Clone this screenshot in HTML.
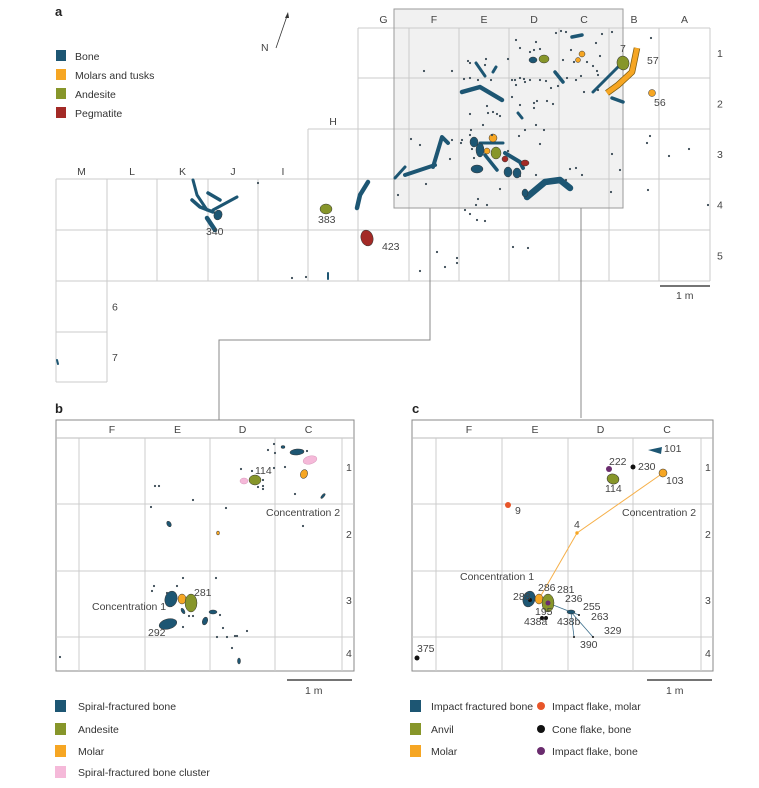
<!DOCTYPE html>
<html><head><meta charset="utf-8">
<style>
html,body{margin:0;padding:0;background:#fff;}
svg{display:block;font-family:"Liberation Sans",Arial,sans-serif;}
.lbl{font-size:10.5px;fill:#444;}
.leg{font-size:10.5px;fill:#333;}
.pl{font-size:13px;font-weight:bold;fill:#222;}
</style></head>
<body>
<svg id="fig" width="759" height="788" viewBox="0 0 759 788" xmlns="http://www.w3.org/2000/svg">
<rect x="394" y="9" width="229" height="199" fill="#f1f1f1" stroke="#9a9a9a" stroke-width="1"/>
<g id="gridA" stroke="#cbcbcb" stroke-width="1" fill="none"></g>
<rect x="394" y="9" width="229" height="199" fill="none" stroke="#9a9a9a" stroke-width="1"/>
<g stroke="#888" stroke-width="1" fill="none">
<polyline points="430,208 430,340 219,340 219,420"/>
<line x1="581" y1="208" x2="581" y2="418"/>
</g>
<g id="marksA"></g>
<g id="gridB"></g>
<g id="marksB"></g>
<g id="gridC"></g>
<g id="marksC"></g>

<text class="pl" x="55" y="16">a</text>
<text class="pl" x="55" y="413">b</text>
<text class="pl" x="412" y="413">c</text>

<g>
<line x1="276" y1="48" x2="287" y2="16" stroke="#333" stroke-width="0.8"/>
<polygon points="288,12 285,18 289,18" fill="#333"/>
<text class="lbl" x="261" y="51">N</text>
</g>

<g>
<rect x="56" y="50" width="10" height="11" fill="#1d5673"/><text class="leg" x="75" y="60">Bone</text>
<rect x="56" y="69" width="10" height="11" fill="#f6a623"/><text class="leg" x="75" y="79">Molars and tusks</text>
<rect x="56" y="88" width="10" height="11" fill="#87962a"/><text class="leg" x="75" y="98">Andesite</text>
<rect x="56" y="107" width="10" height="11" fill="#a32a26"/><text class="leg" x="75" y="117">Pegmatite</text>
</g>

<g>
<line x1="660" y1="286" x2="710" y2="286" stroke="#222" stroke-width="1.3"/>
<text class="lbl" x="676" y="299">1 m</text>
</g>
<g>
<line x1="287" y1="680" x2="352" y2="680" stroke="#222" stroke-width="1.3"/>
<text class="lbl" x="305" y="694">1 m</text>
</g>
<g>
<line x1="647" y1="680" x2="712" y2="680" stroke="#222" stroke-width="1.3"/>
<text class="lbl" x="666" y="694">1 m</text>
</g>

<g>
<rect x="55" y="700" width="11" height="12" fill="#1d5673"/><text class="leg" x="78" y="710">Spiral-fractured bone</text>
<rect x="55" y="723" width="11" height="12" fill="#87962a"/><text class="leg" x="78" y="733">Andesite</text>
<rect x="55" y="745" width="11" height="12" fill="#f6a623"/><text class="leg" x="78" y="755">Molar</text>
<rect x="55" y="766" width="11" height="12" fill="#f5b9d9"/><text class="leg" x="78" y="776">Spiral-fractured bone cluster</text>
</g>
<g>
<rect x="410" y="700" width="11" height="12" fill="#1d5673"/><text class="leg" x="431" y="710">Impact fractured bone</text>
<rect x="410" y="723" width="11" height="12" fill="#87962a"/><text class="leg" x="431" y="733">Anvil</text>
<rect x="410" y="745" width="11" height="12" fill="#f6a623"/><text class="leg" x="431" y="755">Molar</text>
<circle cx="541" cy="706" r="4" fill="#e8562a"/><text class="leg" x="552" y="710">Impact flake, molar</text>
<circle cx="541" cy="729" r="4" fill="#111"/><text class="leg" x="552" y="733">Cone flake, bone</text>
<circle cx="541" cy="751" r="4" fill="#6a2c6e"/><text class="leg" x="552" y="755">Impact flake, bone</text>
</g>
</svg>
<script>
// ---------- data (map units, relative to each panel's grid origin) ----------
const COL = {bone:'#1d5673', molar:'#f6a623', andesite:'#87962a', peg:'#a32a26', pink:'#f5b9d9', black:'#111', purple:'#6a2c6e', flake:'#e8562a'};

// Panel a
const aColLabels = ['M','L','K','J','I','H','G','F','E','D','C','B','A'];
const aRowLabels = ['1','2','3','4','5','6','7'];
const aEllipses = [
 [440,125,5,6,0,'andesite'],[488,31,5,4,0,'andesite'],[567,35,6,7,-10,'andesite'],[270,181,6,5,0,'andesite'],
 [526,26,3,3,0,'molar'],[522,32,2.5,2.5,0,'molar'],[437,110,4,4,0,'molar'],[431,123,3,3,0,'molar'],[596,65,3.5,3.5,0,'molar'],
 [449,131,3,3,0,'peg'],[469,135,4,3,0,'peg'],[311,210,6,8,-15,'peg'],
 [418,114,4,5,0,'bone'],[424,122,4,7,0,'bone'],[421,141,6,4,0,'bone'],[452,144,4,5,0,'bone'],[461,145,4,5,0,'bone'],[469,165,3,4,0,'bone'],[477,32,4,3,0,'bone'],[162,187,4,5,20,'bone']
];
const aBones = [
 [[[406,64],[424,59],[446,72]],4.5],[[[420,35],[429,48]],3],[[[437,44],[440,39]],3],[[[499,44],[507,54]],3.5],
 [[[516,9],[526,7]],3.5],[[[537,64],[562,39]],3],[[[556,70],[567,74]],3.5],[[[462,85],[466,90]],3],
 [[[471,169],[489,154],[504,152],[514,160]],6.5],[[[339,150],[349,139]],3],[[[349,147],[379,137]],4],
 [[[377,139],[386,109],[392,115]],4],[[[449,125],[464,134],[467,140]],4],[[[424,115],[447,115]],3],[[[429,127],[441,142]],3.5],
 [[[137,152],[141,167],[151,182]],3],[[[136,172],[144,179],[157,184]],3.5],[[[157,182],[181,169]],3],[[[151,190],[159,202]],4.5],
 [[[152,165],[164,172]],3.5],[[[312,154],[304,167],[301,180]],4.5],[[[272,245],[272,251]],2],[[[1,332],[2,336]],2]
];
const aTusk = [[581,20],[576,44],[562,57],[551,65]];
const aDots = [[396,43],[412,33],[414,35],[430,31],[429,37],[452,31],[408,51],[414,50],[422,52],[435,52],[459,52],[464,50],[468,51],[474,52],[484,52],[490,53],[495,60],[502,58],[520,52],[525,48],[528,64],[537,38],[541,43],[474,24],[480,14],[478,22],[484,21],[500,5],[505,3],[510,4],[515,22],[540,15],[546,6],[544,28],[542,62],[556,4],[595,10],[594,108],[592,162],[613,128],[633,121],[591,115],[555,164],[556,126],[520,140],[526,147],[510,152],[480,147],[464,148],[444,161],[422,171],[420,177],[431,177],[409,182],[414,186],[421,192],[429,193],[370,156],[394,131],[396,112],[406,112],[405,115],[414,107],[416,121],[418,130],[463,108],[469,102],[488,102],[480,97],[452,123],[444,88],[432,85],[437,84],[441,86],[464,77],[478,80],[481,73],[491,73],[497,76],[460,57],[456,69],[478,75],[469,54],[511,50],[531,34],[542,47],[456,52],[507,32],[518,34],[464,20],[460,12],[368,43],[414,86],[431,78],[355,111],[364,117],[415,102],[427,97],[436,107],[484,116],[514,141],[564,142],[342,167],[457,219],[472,220],[381,224],[401,230],[401,235],[389,239],[364,243],[652,177],[236,250],[250,249],[202,155]];
const aLabels = [[564,24,'7'],[591,36,'57'],[598,78,'56'],[262,195,'383'],[326,222,'423'],[150,207,'340']];

// Panel b
const bColLabels = ['F','E','D','C'];
const bRowLabels = ['1','2','3','4'];
const bEllipses = [
 [241,14,7,3,-5,'bone'],[254,22,7,4,-15,'pink'],[248,36,3.5,4.5,20,'molar'],[199,42,6,5,0,'andesite'],[188,43,4,3,0,'pink'],
 [115,161,6,8,15,'bone'],[126,161,4,5,0,'molar'],[135,165,6,9,0,'andesite'],[112,186,9,5,-15,'bone'],
 [157,174,4,2,0,'bone'],[149,183,2.5,4,20,'bone'],[127,173,1.5,3,-30,'bone'],[113,86,2,3,-30,'bone'],[162,95,1.5,2,0,'molar'],[183,223,1.5,3,0,'bone'],[227,9,2,1.5,0,'bone'],[267,58,1.2,3,40,'bone']
];
const bDots = [[218,6],[212,12],[219,15],[251,13],[185,31],[196,33],[218,30],[229,29],[207,42],[207,48],[207,51],[202,49],[239,56],[99,48],[103,48],[137,62],[95,69],[170,70],[247,88],[4,219],[127,140],[160,140],[98,148],[121,148],[96,153],[111,155],[133,178],[137,178],[164,177],[127,189],[167,190],[161,199],[171,199],[179,198],[181,198],[191,193],[176,210]];
const bLabels = [[199,36,'114'],[138,158,'281'],[92,198,'292'],[36,172,'Concentration 1'],[210,78,'Concentration 2']];

// Panel c
const cColLabels = ['F','E','D','C'];
const cRowLabels = ['1','2','3','4'];
const cMolarLine = [[251,35],[165,95],[127,161]];
const cImpactLines = [[[136,165],[159,174]],[[159,174],[181,199]],[[159,174],[162,199]],[[159,174],[167,177]]];
const cEllipses = [
 [117,161,6,8,15,'bone'],[127,161,4,5,0,'molar'],[136,165,6,9,0,'andesite'],[201,41,6,5,15,'andesite'],[251,35,4,4,-30,'molar'],[159,174,4,2,0,'bone']
];
const cPoints = [[197,31,3,'purple'],[221,29,2.5,'black'],[96,67,3,'flake'],[165,95,1.7,'molar'],[118,162,2,'black'],[136,165,2.5,'purple'],[167,177,1,'black'],[181,199,1,'black'],[162,199,1,'black'],[130,180,2,'black'],[134,180,2,'black'],[5,220,2.5,'black']];
const cBone101 = [[236,12],[250,9],[249,16]];
const cLabels = [[252,14,'101'],[197,27,'222'],[226,32,'230'],[193,54,'114'],[254,46,'103'],[103,76,'9'],[162,90,'4'],[101,162,'288'],[126,153,'286'],[145,155,'281'],[153,164,'236'],[171,172,'255'],[123,177,'195'],[112,187,'438a'],[145,187,'438b'],[179,182,'263'],[192,196,'329'],[168,210,'390'],[5,214,'375'],[48,142,'Concentration 1'],[210,78,'Concentration 2']];

// ---------- scales ----------
const NS='http://www.w3.org/2000/svg';
function mk(parent,tag,attrs){const e=document.createElementNS(NS,tag);for(const k in attrs)e.setAttribute(k,attrs[k]);parent.appendChild(e);return e;}
const A={x:v=>56+v,y:v=>28+v};
const B={x:v=>56+v,y:v=>438+v};
const C={x:v=>412+v,y:v=>438+v};

// ---------- panel a grid ----------
(function(){
 const g=document.getElementById('gridA');
 const xs=[56,107,157,208,258,308,358,409,459,509,559,609,659,710];
 const ys=[28,78,129,179,230,281,332,382];
 const H=[[28,358,710],[78,358,710],[129,308,710],[179,56,710],[230,56,710],[281,56,710],[332,56,107],[382,56,107]];
 H.forEach(h=>mk(g,'line',{x1:h[1],x2:h[2],y1:h[0],y2:h[0]}));
 xs.forEach((x,i)=>{let top=179,bot=281;if(i<=1)bot=382;if(i==5)top=129;if(i>=6)top=28;mk(g,'line',{x1:x,x2:x,y1:top,y2:bot});});
 aColLabels.forEach((c,i)=>{const cx=(xs[i]+xs[i+1])/2;const y=i<5?175:(i==5?125:23);
   const t=mk(g,'text',{x:cx,y:y,'text-anchor':'middle',class:'lbl',stroke:'none'});t.textContent=c;
   
   });
 aRowLabels.forEach((r,i)=>{const x=i<5?717:112;const y=(ys[i]+ys[i+1])/2+4;
   const t=mk(g,'text',{x:x,y:y,class:'lbl',stroke:'none'});t.textContent=r;
   
   });
})();

function drawEll(g,S,arr){arr.forEach(e=>{const el=mk(g,'ellipse',{cx:S.x(e[0]),cy:S.y(e[1]),rx:e[2],ry:e[3],transform:`rotate(${e[4]} ${S.x(e[0])} ${S.y(e[1])})`,fill:COL[e[5]],stroke:e[5]=='pink'?'#d99abc':'#333','stroke-width':0.5});
 
 });}
function drawDots(g,S,arr){arr.forEach(d=>{const el=mk(g,'circle',{cx:S.x(d[0]),cy:S.y(d[1]),r:1.1,fill:'#3a4a55'});
 
 });}
function drawLabels(g,S,arr){arr.forEach(l=>{const t=mk(g,'text',{x:S.x(l[0]),y:S.y(l[1]),class:'lbl'});t.textContent=l[2];
 
 });}

// ---------- panel a marks ----------
(function(){
 const g=document.getElementById('marksA');
 aBones.forEach(b=>{const p=b[0].map(q=>A.x(q[0])+','+A.y(q[1])).join(' ');
  const el=mk(g,'polyline',{points:p,fill:'none',stroke:COL.bone,'stroke-width':b[1],'stroke-linecap':'round','stroke-linejoin':'round'});
  
  });
 const tp=aTusk.map(q=>A.x(q[0])+','+A.y(q[1])).join(' ');
 mk(g,'polyline',{points:tp,fill:'none',stroke:'#7a5a10','stroke-width':6.5,'stroke-linejoin':'round'});
 const tk=mk(g,'polyline',{points:tp,fill:'none',stroke:COL.molar,'stroke-width':5,'stroke-linejoin':'round'});
 
 
 drawEll(g,A,aEllipses);
 drawDots(g,A,aDots);
 drawLabels(g,A,aLabels);
})();

// ---------- panels b, c grids ----------
function panelGrid(id,ox,cols,colLabels,rowLabels){
 const g=document.getElementById(id);
 const xs=cols, ys=[438,504,571,637];
 const w=(ox==56?298:301);
 mk(g,'rect',{x:ox,y:420,width:w,height:251,fill:'none',stroke:'#888','stroke-width':1});
 mk(g,'line',{x1:ox,x2:ox+w,y1:438,y2:438,stroke:'#bbb'});
 ys.slice(1).forEach(y=>mk(g,'line',{x1:ox,x2:ox+w,y1:y,y2:y,stroke:'#ccc'}));
 xs.forEach(x=>mk(g,'line',{x1:x,x2:x,y1:438,y2:671,stroke:'#ccc'}));
 colLabels.forEach((c,i)=>{const t=mk(g,'text',{x:(xs[i]+xs[i+1])/2,y:433,'text-anchor':'middle',class:'lbl'});t.textContent=c;
  
  });
 const ry=[471,538,604,657];
 rowLabels.forEach((r,i)=>{const t=mk(g,'text',{x:xs[xs.length-1]+4,y:ry[i],class:'lbl'});t.textContent=r;
  
  });
}
panelGrid('gridB',56,[79,145,210,275,342],bColLabels,bRowLabels);
panelGrid('gridC',412,[436,502,568,633,701],cColLabels,cRowLabels);

// ---------- panel b marks ----------
(function(){
 const g=document.getElementById('marksB');
 drawEll(g,B,bEllipses);
 drawDots(g,B,bDots);
 drawLabels(g,B,bLabels);
})();

// ---------- panel c marks ----------
(function(){
 const g=document.getElementById('marksC');
 const ml=mk(g,'polyline',{points:cMolarLine.map(q=>C.x(q[0])+','+C.y(q[1])).join(' '),fill:'none',stroke:'#f6b04a','stroke-width':1});
 
 
 cImpactLines.forEach(l=>{const el=mk(g,'line',{x1:C.x(l[0][0]),y1:C.y(l[0][1]),x2:C.x(l[1][0]),y2:C.y(l[1][1]),stroke:'#3d6f8c','stroke-width':0.8});
  
  });
 const tri=mk(g,'polygon',{points:cBone101.map(q=>C.x(q[0])+','+C.y(q[1])).join(' '),fill:COL.bone});
 
 
 drawEll(g,C,cEllipses);
 cPoints.forEach(p=>{const el=mk(g,'circle',{cx:C.x(p[0]),cy:C.y(p[1]),r:p[2],fill:COL[p[3]]});
  
  });
 drawLabels(g,C,cLabels);
})();
</script>
</body></html>
